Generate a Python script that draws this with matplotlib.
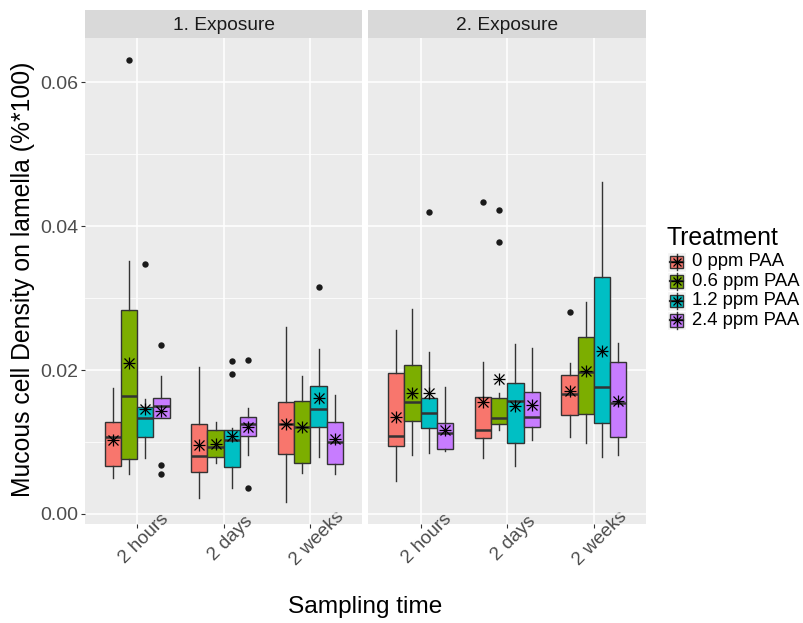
import matplotlib
matplotlib.use('Agg')
import matplotlib.pyplot as plt
from matplotlib.transforms import ScaledTranslation
from matplotlib.patches import Rectangle
from matplotlib.lines import Line2D

plt.rcParams['font.family'] = ['Liberation Sans', 'DejaVu Sans']

panels = ['1. Exposure', '2. Exposure']
times = ['2 hours', '2 days', '2 weeks']
treatments = ['0 ppm PAA', '0.6 ppm PAA', '1.2 ppm PAA', '2.4 ppm PAA']
colors = ['#F8766D', '#7CAE00', '#00BFC4', '#C77CFF']

# values indexed [panel][time][treatment]
q1 = [
    [[0.00667, 0.00759, 0.01074, 0.01329],
     [0.00583, 0.00796, 0.00657, 0.01088],
     [0.00838, 0.00708, 0.01204, 0.00694]],
    [[0.00949, 0.01296, 0.01194, 0.00898],
     [0.01051, 0.01245, 0.00991, 0.01204],
     [0.01370, 0.01384, 0.01259, 0.01065]],
]
median = [
    [[0.01074, 0.01644, 0.01338, 0.01495],
     [0.00806, 0.00935, 0.01028, 0.01245],
     [0.01255, 0.01213, 0.01454, 0.01000]],
    [[0.01088, 0.01560, 0.01403, 0.01120],
     [0.01162, 0.01329, 0.01574, 0.01352],
     [0.01667, 0.01968, 0.01759, 0.01546]],
]
q3 = [
    [[0.01282, 0.02833, 0.01491, 0.01611],
     [0.01255, 0.01162, 0.01162, 0.01343],
     [0.01560, 0.01574, 0.01778, 0.01278]],
    [[0.01954, 0.02069, 0.01611, 0.01269],
     [0.01620, 0.01606, 0.01815, 0.01690],
     [0.01926, 0.02463, 0.03292, 0.02106]],
]
whisker_low = [
    [[0.00495, 0.00551, 0.00773, 0.01329],
     [0.00218, 0.00704, 0.00356, 0.00819],
     [0.00171, 0.00565, 0.00787, 0.00551]],
    [[0.00463, 0.00815, 0.00843, 0.00875],
     [0.00782, 0.01167, 0.00667, 0.01028],
     [0.01065, 0.00991, 0.00796, 0.00815]],
]
whisker_high = [
    [[0.01745, 0.03514, 0.01593, 0.01921],
     [0.02037, 0.01273, 0.01190, 0.01477],
     [0.02593, 0.01912, 0.02292, 0.01653]],
    [[0.02556, 0.02843, 0.02255, 0.01769],
     [0.02111, 0.01676, 0.02356, 0.02301],
     [0.02093, 0.02940, 0.04616, 0.02370]],
]
means = [
    [[0.01028, 0.02093, 0.01454, 0.01435],
     [0.00954, 0.00968, 0.01083, 0.01213],
     [0.01245, 0.01208, 0.01606, 0.01037]],
    [[0.01352, 0.01676, 0.01676, 0.01167],
     [0.01551, 0.01870, 0.01505, 0.01509],
     [0.01713, 0.01981, 0.02259, 0.01574]],
]
outliers = [
    [[[], [0.0631], [0.03472], [0.02352, 0.00685, 0.00556]],
     [[], [], [0.0212, 0.01944], [0.02134, 0.00356]],
     [[], [], [0.03157], []]],
    [[[], [], [0.04199], []],
     [[0.04338], [0.04222, 0.03782], [], []],
     [[0.0281], [], [], []]],
]

yticks = [0.0, 0.02, 0.04, 0.06]
ytick_labels = ['0.00', '0.02', '0.04', '0.06']

W, H = 804, 623
fig = plt.figure(figsize=(W / 100, H / 100), dpi=100)


def rect(x0, y0, x1, y1):
    return [x0 / W, 1 - y1 / H, (x1 - x0) / W, (y1 - y0) / H]


panel_x = [85, 368.5]
pw = 277.5
ptop, pbot = 37.7, 524
stop = 10
width = 0.75 / 4
edge = '#333333'

for p in range(2):
    x0 = panel_x[p]
    ax = fig.add_axes(rect(x0, ptop, x0 + pw, pbot))
    ax.set_facecolor('#EBEBEB')
    for s in ax.spines.values():
        s.set_visible(False)
    ax.set_axisbelow(True)
    ax.set_xlim(0.4, 3.6)
    ax.set_ylim(-0.00139, 0.06616)
    ax.set_yticks(yticks)
    ax.set_yticks([0.01, 0.03, 0.05], minor=True)
    ax.set_xticks([1, 2, 3])
    ax.grid(which='major', color='white', lw=1.1)
    ax.grid(which='minor', axis='y', color='white', lw=0.55)
    ax.tick_params(which='minor', length=0)
    ax.tick_params(which='major', length=3.0, width=0.8, color=edge,
                   labelcolor='#4D4D4D', labelsize=14)
    if p == 0:
        ax.set_yticklabels(ytick_labels)
        ax.tick_params(axis='y', pad=2)
    else:
        ax.tick_params(axis='y', length=0, labelleft=False)
    ax.set_xticklabels(times)
    ax.tick_params(axis='x', pad=7.5, labelsize=13.5)
    for lab in ax.get_xticklabels():
        lab.set_rotation(45)
        lab.set_ha('center')
        lab.set_va('center')
        lab.set_rotation_mode('anchor')
        lab.set_transform(lab.get_transform() + ScaledTranslation(0.065, 0, fig.dpi_scale_trans))

    stats, pos, cols, mpos, mval = [], [], [], [], []
    for i in range(3):
        for j in range(4):
            x = i + 1 + (j - 1.5) * width
            stats.append(dict(med=median[p][i][j], q1=q1[p][i][j], q3=q3[p][i][j],
                              whislo=whisker_low[p][i][j], whishi=whisker_high[p][i][j],
                              fliers=outliers[p][i][j]))
            pos.append(x)
            cols.append(colors[j])
            mpos.append(x)
            mval.append(means[p][i][j])
    res = ax.bxp(stats, positions=pos, widths=width, patch_artist=True, showcaps=False,
                 manage_ticks=False,
                 boxprops=dict(edgecolor=edge, lw=1.0),
                 whiskerprops=dict(color=edge, lw=1.0),
                 medianprops=dict(color=edge, lw=1.8, solid_capstyle='butt'),
                 flierprops=dict(marker='o', markerfacecolor='#1A1A1A',
                                 markeredgecolor='none', markersize=4.6))
    for b, c in zip(res['boxes'], cols):
        b.set_facecolor(c)
    ax.plot(mpos, mval, ls='none', marker='+', color='black', ms=9, mew=0.9, zorder=5)
    ax.plot(mpos, mval, ls='none', marker='x', color='black', ms=6.5, mew=0.9, zorder=5)

    sax = fig.add_axes(rect(x0, stop, x0 + pw, ptop))
    sax.set_facecolor('#D9D9D9')
    sax.set_xticks([])
    sax.set_yticks([])
    for s in sax.spines.values():
        s.set_visible(False)
    sax.text(0.5, 0.45, panels[p], ha='center', va='center', fontsize=13.8,
             color='#1A1A1A', transform=sax.transAxes)

# overlay for titles and legend (pixel coordinates)
ov = fig.add_axes([0, 0, 1, 1], facecolor='none')
ov.set_xlim(0, W)
ov.set_ylim(H, 0)
ov.axis('off')

ov.text(23, 279, 'Mucous cell Density on lamella (%*100)', rotation=90,
        ha='center', va='center', fontsize=17.8, color='black')
ov.text(365.5, 607, 'Sampling time', ha='center', va='center', fontsize=17.6, color='black')

ov.text(667, 238, 'Treatment', ha='left', va='center', fontsize=17.8, color='black')
ks = 19.5
for k, (lab, c) in enumerate(zip(treatments, colors)):
    top = 252 + k * ks
    cx, cy = 667 + ks / 2, top + ks / 2
    ov.add_patch(Rectangle((667, top), ks, ks, facecolor='#F2F2F2', edgecolor='white', lw=1))
    ov.add_line(Line2D([cx, cx], [top + 1.5, top + ks - 1.5], color=edge, lw=1.0))
    ov.add_patch(Rectangle((670, top + 3.5), ks - 6, ks - 7, facecolor=c, edgecolor=edge, lw=1.0))
    ov.add_line(Line2D([670, 670 + ks - 6], [cy, cy], color=edge, lw=1.6))
    ov.plot([cx], [cy], marker='+', color='black', ms=8, mew=0.9)
    ov.plot([cx], [cy], marker='x', color='black', ms=5.5, mew=0.9)
    ov.text(692, cy, lab, ha='left', va='center', fontsize=13.3, color='black')

fig.savefig('out.png', dpi=100)
